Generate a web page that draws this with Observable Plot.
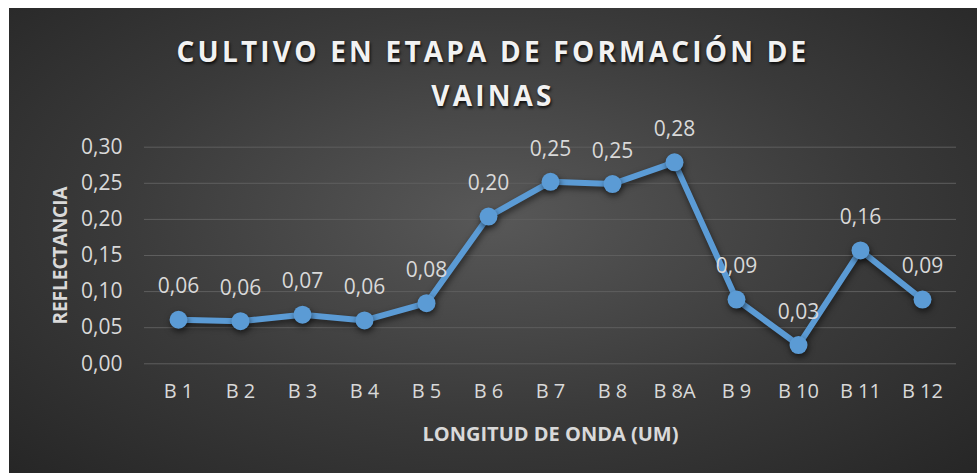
<!DOCTYPE html>
<html>
<head>
<meta charset="utf-8">
<script src="https://cdn.jsdelivr.net/npm/d3@7"></script>
<script src="https://cdn.jsdelivr.net/npm/@observablehq/plot@0.6"></script>
<style>
  html, body { margin: 0; padding: 0; background: #ffffff; width: 977px; height: 473px; overflow: hidden; }
  #chart {
    position: absolute; left: 9px; top: 8px; width: 968px; height: 465px;
    background: radial-gradient(ellipse farthest-corner at 50% 45%, #585858 0%, #3a3a3a 55%, #262626 100%);
    font-family: "Open Sans", sans-serif;
  }
  #title {
    position: absolute; left: 0; top: 21px; width: 968px; text-align: center;
    color: #f2f2f2; font-weight: bold; font-size: 28px; letter-spacing: 3.2px; line-height: 44px;
    text-shadow: 1px 2px 3px rgba(0,0,0,0.8);
  }
  #chart svg { position: absolute; left: 0; top: 0; background: transparent; }
  #chart svg g[aria-label="line"], #chart svg g[aria-label="dot"] { filter: drop-shadow(1px 3px 3px rgba(0,0,0,0.55)); }
</style>
</head>
<body>
<div id="chart"><div id="title">CULTIVO EN ETAPA DE FORMACIÓN DE<br>VAINAS</div></div>
<script>
const bands = ["B 1", "B 2", "B 3", "B 4", "B 5", "B 6", "B 7", "B 8", "B 8A", "B 9", "B 10", "B 11", "B 12"];
const reflectance = [0.061, 0.059, 0.068, 0.060, 0.084, 0.204, 0.252, 0.249, 0.279, 0.089, 0.026, 0.157, 0.089];
const yTicks = [0, 0.05, 0.10, 0.15, 0.20, 0.25, 0.30];
const yTickLabels = ["0,00", "0,05", "0,10", "0,15", "0,20", "0,25", "0,30"];

const data = bands.map((b, i) => ({band: b, value: reflectance[i]}));
const fmt = v => v.toFixed(2).replace(".", ",");

const plot = Plot.plot({
  width: 968,
  height: 465,
  marginLeft: 135,
  marginRight: 21,
  marginTop: 138.7,
  marginBottom: 109.7,
  style: {background: "transparent", fontFamily: "Open Sans, sans-serif", color: "#d9d9d9"},
  x: {type: "point", domain: bands, padding: 0.5, label: null},
  y: {domain: [0, 0.30], label: null},
  marks: [
    Plot.ruleY(yTicks, {stroke: "#5e5e5e", strokeWidth: 1}),
    Plot.axisY({ticks: yTicks, tickFormat: (d) => yTickLabels[yTicks.indexOf(d)], tickSize: 0, tickPadding: 22, fontSize: 21, fill: "#d9d9d9", label: null}),
    Plot.axisX({tickSize: 0, tickPadding: 20, fontSize: 20, fill: "#d9d9d9", label: null}),
    Plot.line(data, {x: "band", y: "value", stroke: "#5b9bd5", strokeWidth: 6, strokeLinejoin: "round"}),
    Plot.dot(data, {x: "band", y: "value", r: 9, fill: "#5b9bd5", stroke: "none"}),
    Plot.text(data, {x: "band", y: "value", text: d => fmt(d.value), dy: -33, fontSize: 21, fill: "#d9d9d9", lineAnchor: "middle"}),
    Plot.text(["REFLECTANCIA"], {frameAnchor: "left", textAnchor: "middle", rotate: -90, dx: -84, fontSize: 19, fontWeight: "bold", fill: "#d9d9d9", lineAnchor: "middle", letterSpacing: "1.2px"}),
    Plot.text(["LONGITUD DE ONDA (UM)"], {frameAnchor: "bottom", textAnchor: "middle", dy: 71, fontSize: 20, fontWeight: "bold", fill: "#d9d9d9", lineAnchor: "middle", letterSpacing: "0px"})
  ]
});
document.getElementById("chart").appendChild(plot);
</script>
</body>
</html>
